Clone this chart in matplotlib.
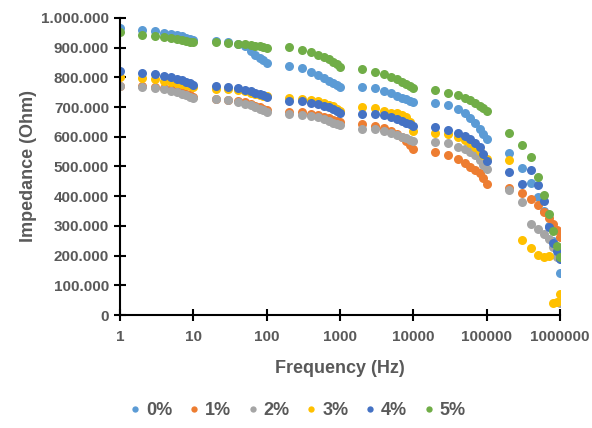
import matplotlib
matplotlib.use("Agg")
import matplotlib.pyplot as plt
from matplotlib.ticker import FixedLocator, FuncFormatter, NullLocator

plt.rcParams["font.family"] = ["Liberation Sans", "DejaVu Sans"]

# measurement frequencies (Hz)
freq = [1, 2, 3, 4, 5, 6, 7, 8, 9,
        10, 20, 30, 40, 50, 60, 70, 80, 90,
        100, 200, 300, 400, 500, 600, 700, 800, 900,
        1000, 2000, 3000, 4000, 5000, 6000, 7000, 8000, 9000,
        10000, 20000, 30000, 40000, 50000, 60000, 70000, 80000, 90000,
        100000, 200000, 300000, 400000, 500000, 600000, 700000, 800000, 900000,
        1000000]

# impedance in kOhm
z_0 = [965, 960, 955, 950, 946, 942, 938, 934, 930,
       925, 922, 918, 912, 905, 888, 876, 866, 857,
       848, 839, 833, 819, 808, 797, 788, 780, 774,
       769, 766, 763, 754, 747, 738, 732, 726, 720,
       716, 715, 707, 692, 679, 662, 645, 625, 609,
       593, 546, 494, 446, 396, 350, 300, 250, 200,
       142]
z_1 = [772, 770, 768, 764, 760, 755, 750, 745, 740,
       735, 727, 725, 720, 716, 710, 705, 700, 695,
       690, 685, 682, 678, 673, 668, 662, 656, 652,
       649, 643, 638, 630, 620, 610, 598, 587, 574,
       560, 550, 539, 524, 511, 499, 488, 477, 460,
       441, 429, 412, 390, 370, 348, 325, 306, 285,
       262]
z_2 = [771, 768, 765, 760, 755, 750, 745, 740, 735,
       731, 727, 723, 718, 712, 706, 700, 694, 689,
       684, 676, 674, 670, 665, 660, 654, 648, 644,
       640, 626, 625, 620, 614, 607, 600, 595, 590,
       586, 584, 578, 567, 558, 550, 539, 522, 505,
       490, 421, 382, 305, 289, 273, 255, 228, 196,
       39]
z_3 = [802, 797, 793, 789, 785, 781, 777, 773, 770,
       768, 762, 760, 757, 753, 749, 745, 742, 739,
       737, 730, 728, 725, 720, 714, 708, 702, 695,
       687, 699, 696, 688, 681, 679, 673, 665, 650,
       620, 614, 609, 598, 589, 578, 565, 552, 540,
       526, 522, 253, 225, 202, 196, 200, 41, 45,
       71]
z_4 = [822, 816, 812, 806, 801, 796, 790, 785, 780,
       775, 770, 767, 763, 759, 754, 749, 744, 740,
       735, 720, 719, 715, 711, 705, 699, 692, 686,
       679, 678, 676, 673, 668, 660, 654, 648, 643,
       638, 634, 623, 612, 603, 592, 580, 565, 543,
       518, 481, 441, 488, 438, 385, 295, 243, 215,
       187]
z_5 = [952, 943, 940, 936, 932, 929, 926, 923, 920,
       918, 918, 916, 914, 912, 910, 907, 905, 902,
       899, 901, 892, 884, 877, 869, 861, 853, 845,
       836, 828, 819, 810, 802, 795, 786, 778, 772,
       765, 758, 746, 741, 730, 724, 715, 704, 696,
       688, 612, 572, 531, 466, 404, 340, 284, 232,
       196]

labels = ["0%", "1%", "2%", "3%", "4%", "5%"]
colors = ["#5B9BD5", "#ED7D31", "#A5A5A5", "#FFC000", "#4472C4", "#70AD47"]
series = [z_0, z_1, z_2, z_3, z_4, z_5]

x_ticks = [1, 10, 100, 1000, 10000, 100000, 1000000]
x_tick_labels = ["1", "10", "100", "1000", "10000", "100000", "1000000"]

txt = "#595959"

fig = plt.figure(figsize=(5.92, 4.28), dpi=100)
ax = fig.add_axes([0.203, 0.264, 0.743, 0.694])

for vals, lab, c in zip(series, labels, colors):
    ax.plot(freq, [v * 1000 for v in vals], "o", color=c, markersize=6.5,
            markeredgewidth=0, label=lab)

ax.set_xscale("log")
ax.set_xlim(1, 1000000)
ax.set_ylim(0, 1000000)
ax.xaxis.set_major_locator(FixedLocator(x_ticks))
ax.xaxis.set_minor_locator(NullLocator())
ax.set_xticklabels(x_tick_labels)
ax.set_yticks(range(0, 1000001, 100000))
ax.yaxis.set_major_formatter(FuncFormatter(lambda v, p: f"{int(v):,}".replace(",", ".")))

for s in ["top", "right"]:
    ax.spines[s].set_visible(False)
for s in ["left", "bottom"]:
    ax.spines[s].set_color("black")
    ax.spines[s].set_linewidth(1.5)

ax.tick_params(axis="both", direction="inout", length=9, width=1.5,
               color="black", labelcolor=txt, labelsize=11)
ax.tick_params(axis="x", pad=6)
for t in ax.get_xticklabels() + ax.get_yticklabels():
    t.set_fontweight("bold")

ax.set_xlabel("Frequency (Hz)", fontsize=13, fontweight="bold", color=txt, labelpad=12)
ax.set_ylabel("Impedance (Ohm)", fontsize=13, fontweight="bold", color=txt, labelpad=3)

handles, hl = ax.get_legend_handles_labels()
leg = fig.legend(handles, hl, loc="center", bbox_to_anchor=(0.5, 0.04), ncol=6,
                 frameon=False, markerscale=0.7, handletextpad=0.1,
                 columnspacing=0.7, handlelength=1.0,
                 prop={"size": 13, "weight": "bold"})
for t in leg.get_texts():
    t.set_color(txt)

fig.savefig("out.png", dpi=100)
